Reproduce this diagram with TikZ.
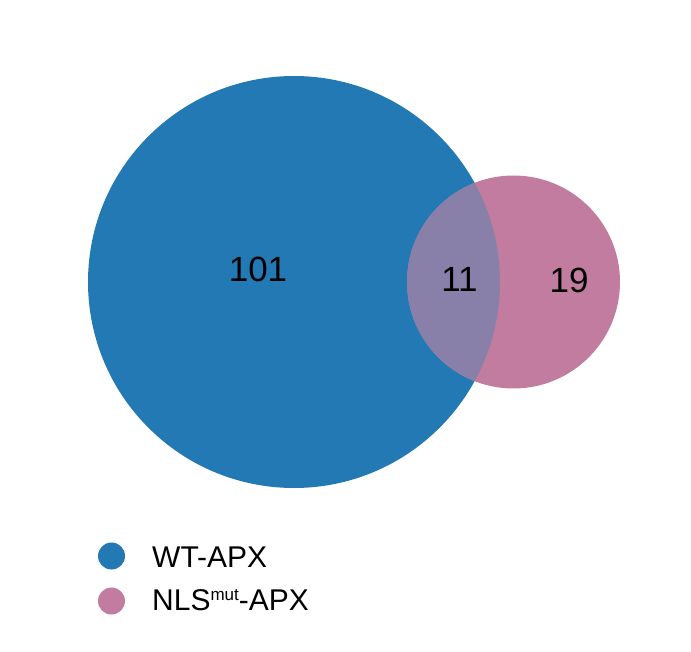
\documentclass[tikz,border=0pt]{standalone}
\usepackage{fontspec}
\setmainfont{Liberation Sans}
\definecolor{wtcolor}{HTML}{2279B4}
\definecolor{nlscolor}{HTML}{C27C9F}
\definecolor{bothcolor}{HTML}{8980AA}

\begin{document}
\begin{tikzpicture}[x=1pt,y=-1pt,
  num/.style={font=\fontsize{35}{35}\selectfont, inner sep=0pt},
  dot/.style={circle, minimum size=27pt, inner sep=0pt},
  lab/.style={font=\fontsize{30}{30}\selectfont, anchor=base west, inner sep=0pt}
]
% ---- sizes (1 unit = 1 px of the figure) ----
\def\wtr{206}  % WT-APX radius
\def\nlr{106.5} % NLS-APX radius
\useasboundingbox (0,0) rectangle (691,652);

% ===== VENN =====
\fill[wtcolor]  (294,282) circle (\wtr);
\fill[nlscolor] (513.5,282) circle (\nlr);
\begin{scope}
  \clip (294,282) circle (\wtr);
  \fill[bothcolor] (513.5,282) circle (\nlr);
\end{scope}

\node[num] (wtonly)  at (258,269)   {101};
\node[num] (both)    at (459.5,279) {11};
\node[num] (nlsonly) at (569,280)   {19};

% ===== LEGEND =====
\node[dot, fill=wtcolor]  (wtdot)  at (111.5,556) {};
\node[dot, fill=nlscolor] (nlsdot) at (111.5,601) {};
\node[lab] (wtlab)  at (152,567) {WT-APX};
\node[lab] (nlslab) at (152,610) {NLS\raisebox{10pt}{\fontsize{17}{17}\selectfont mut}-APX};

\end{tikzpicture}
\end{document}
